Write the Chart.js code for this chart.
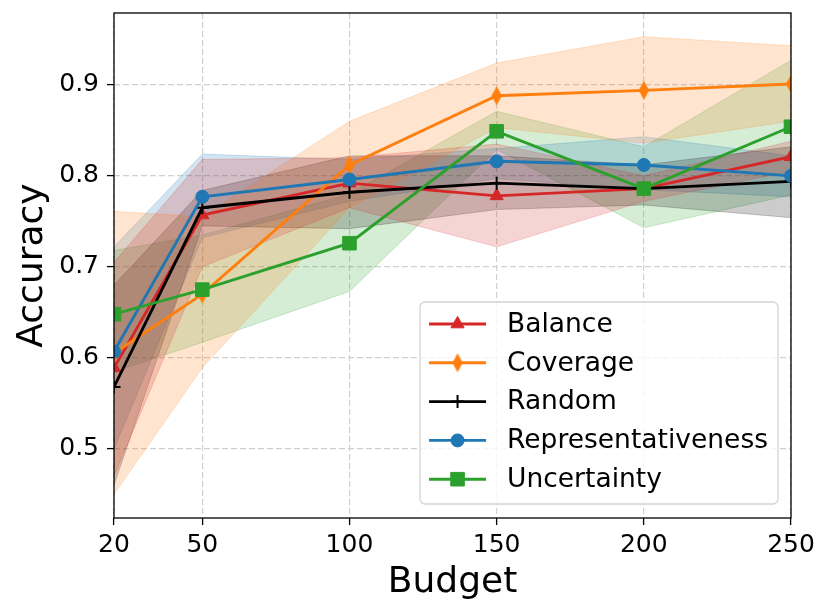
<!DOCTYPE html>
<html><head><meta charset="utf-8">
<script src="https://cdn.jsdelivr.net/npm/chart.js@4.4.1/dist/chart.umd.min.js"></script>
<style>html,body{margin:0;padding:0;background:#fff;}</style>
</head><body>
<canvas id="c" width="830" height="615"></canvas>
<script>
// ---- data ----
const budgets = [20, 50, 100, 150, 200, 250];
const xTickValues = [20, 50, 100, 150, 200, 250];
const yTickValues = [0.5, 0.6, 0.7, 0.8, 0.9];
const seriesNames = ['Balance', 'Coverage', 'Random', 'Representativeness', 'Uncertainty'];

const balanceMean  = [0.589, 0.757, 0.792, 0.778, 0.786, 0.821];
const balanceUpper = [0.705, 0.818, 0.820, 0.835, 0.800, 0.838];
const balanceLower = [0.470, 0.700, 0.765, 0.722, 0.772, 0.805];

const coverageMean  = [0.605, 0.670, 0.812, 0.888, 0.894, 0.901];
const coverageUpper = [0.761, 0.755, 0.860, 0.924, 0.953, 0.943];
const coverageLower = [0.450, 0.589, 0.765, 0.853, 0.836, 0.860];

const randomMean  = [0.568, 0.765, 0.782, 0.792, 0.786, 0.794];
const randomUpper = [0.680, 0.784, 0.822, 0.822, 0.812, 0.832];
const randomLower = [0.460, 0.745, 0.742, 0.763, 0.768, 0.754];

const represMean  = [0.607, 0.777, 0.796, 0.816, 0.812, 0.800];
const represUpper = [0.722, 0.824, 0.818, 0.830, 0.843, 0.822];
const represLower = [0.500, 0.732, 0.772, 0.797, 0.785, 0.777];

const uncertMean  = [0.648, 0.675, 0.726, 0.849, 0.786, 0.854];
const uncertUpper = [0.718, 0.735, 0.780, 0.871, 0.832, 0.927];
const uncertLower = [0.585, 0.617, 0.673, 0.829, 0.743, 0.779];

// ---- styles ----
const colors = ['214,39,40', '255,127,14', '0,0,0', '31,119,180', '44,160,44'];

function thinDiamond() {
  const cv = document.createElement('canvas');
  cv.width = 12; cv.height = 20;
  const g = cv.getContext('2d');
  g.fillStyle = 'rgb(255,127,14)';
  g.beginPath();
  g.moveTo(6, 0.5); g.lineTo(11.2, 10); g.lineTo(6, 19.5); g.lineTo(0.8, 10);
  g.closePath(); g.fill();
  return cv;
}
const diamondImg = thinDiamond();

const pointStyles = [
  {pointStyle: 'triangle', radius: 7.6, borderWidth: 1},
  {pointStyle: diamondImg, radius: 10, borderWidth: 0},
  {pointStyle: 'cross', radius: 6.5, borderWidth: 2},
  {pointStyle: 'circle', radius: 6.5, borderWidth: 1},
  {pointStyle: 'rect', radius: 9.6, borderWidth: 1}
];

const means = [balanceMean, coverageMean, randomMean, represMean, uncertMean];
const uppers = [balanceUpper, coverageUpper, randomUpper, represUpper, uncertUpper];
const lowers = [balanceLower, coverageLower, randomLower, represLower, uncertLower];

const toXY = arr => arr.map((v, i) => ({x: budgets[i], y: v}));

const datasets = [];
seriesNames.forEach((name, i) => {
  const c = colors[i];
  datasets.push({
    label: name + ' upper', data: toXY(uppers[i]),
    borderColor: 'rgba(' + c + ',0.2)', borderWidth: 1,
    backgroundColor: 'rgba(' + c + ',0.2)', fill: '+1',
    pointRadius: 0, pointHoverRadius: 0, order: 20, tension: 0
  });
  datasets.push({
    label: name + ' lower', data: toXY(lowers[i]),
    borderColor: 'rgba(' + c + ',0.2)', borderWidth: 1,
    fill: false, pointRadius: 0, pointHoverRadius: 0, order: 20, tension: 0
  });
});
seriesNames.forEach((name, i) => {
  const c = 'rgb(' + colors[i] + ')';
  const ps = pointStyles[i];
  datasets.push({
    label: name, data: toXY(means[i]),
    borderColor: c, backgroundColor: c, borderWidth: 2.9,
    pointStyle: ps.pointStyle, pointRadius: ps.radius, pointHoverRadius: ps.radius,
    pointBorderWidth: ps.borderWidth, pointBorderColor: c, pointBackgroundColor: c,
    fill: false, tension: 0, order: 5 - i
  });
});

const frameAndLegend = {
  id: 'frameAndLegend',
  afterDraw(chart) {
    const ctx = chart.ctx;
    const a = chart.chartArea;
    ctx.save();
    ctx.strokeStyle = '#000';
    ctx.lineWidth = 1.3;
    ctx.setLineDash([]);
    ctx.strokeRect(a.left, a.top, a.right - a.left, a.bottom - a.top);

    // legend
    const fontSize = 26.5;
    ctx.font = fontSize + 'px "DejaVu Sans"';
    let maxW = 0;
    seriesNames.forEach(n => { maxW = Math.max(maxW, ctx.measureText(n).width); });
    const rowH = 38.8;
    const boxW = 87 + maxW + 10;
    const boxH = 202;
    const bx = a.right - 13 - boxW;
    const by = a.bottom - 14 - boxH;
    ctx.beginPath();
    if (ctx.roundRect) ctx.roundRect(bx, by, boxW, boxH, 5); else ctx.rect(bx, by, boxW, boxH);
    ctx.fillStyle = 'rgba(255,255,255,0.8)';
    ctx.fill();
    ctx.strokeStyle = '#d4d4d4';
    ctx.lineWidth = 1.3;
    ctx.stroke();
    seriesNames.forEach((n, i) => {
      const y = by + 22 + i * rowH;
      const c = 'rgb(' + colors[i] + ')';
      ctx.strokeStyle = c;
      ctx.lineWidth = 2.9;
      ctx.beginPath();
      ctx.moveTo(bx + 9, y); ctx.lineTo(bx + 66, y);
      ctx.stroke();
      const ps = pointStyles[i];
      ctx.fillStyle = c;
      ctx.strokeStyle = c;
      ctx.lineWidth = ps.borderWidth;
      Chart.helpers.drawPoint(ctx, {pointStyle: ps.pointStyle, radius: ps.radius, rotation: 0, borderWidth: ps.borderWidth}, bx + 37.5, y);
      ctx.fillStyle = '#000';
      ctx.textBaseline = 'middle';
      ctx.textAlign = 'left';
      ctx.fillText(n, bx + 87, y + 1);
    });
    ctx.restore();
  }
};

Chart.defaults.font.family = "'DejaVu Sans'";
Chart.defaults.color = '#000';

new Chart(document.getElementById('c'), {
  type: 'line',
  data: {datasets},
  options: {
    responsive: false,
    animation: false,
    events: [],
    layout: {padding: {left: 0, top: 13, right: 39, bottom: 0}},
    plugins: {legend: {display: false}, tooltip: {enabled: false}},
    scales: {
      x: {
        type: 'linear', min: 20, max: 250,
        afterBuildTicks: ax => { ax.ticks = xTickValues.map(v => ({value: v})); },
        afterFit: ax => { ax.height = 97; ax.paddingLeft = 0; ax.paddingRight = 0; },
        ticks: {font: {size: 25}, padding: 5, maxRotation: 0, autoSkip: false, callback: v => String(v)},
        grid: {color: '#d0d0d0', lineWidth: 1.2, tickColor: '#000', tickLength: 7, tickWidth: 1.3, tickBorderDash: []},
        border: {display: false, dash: [6, 3]},
        title: {display: true, text: 'Budget', font: {size: 36}, padding: {top: 4, bottom: 11}}
      },
      y: {
        type: 'linear', min: 0.424, max: 0.979,
        afterBuildTicks: ax => { ax.ticks = yTickValues.map(v => ({value: v})); },
        afterFit: ax => { ax.width = 114; ax.paddingTop = 0; ax.paddingBottom = 0; },
        ticks: {font: {size: 25}, padding: 8, autoSkip: false, callback: v => v.toFixed(1)},
        grid: {color: '#d0d0d0', lineWidth: 1.2, tickColor: '#000', tickLength: 7, tickWidth: 1.3, tickBorderDash: []},
        border: {display: false, dash: [6, 3]},
        title: {display: true, text: 'Accuracy', font: {size: 36}, padding: {top: 11, bottom: 4}}
      }
    }
  },
  plugins: [frameAndLegend]
});
</script>
</body></html>
